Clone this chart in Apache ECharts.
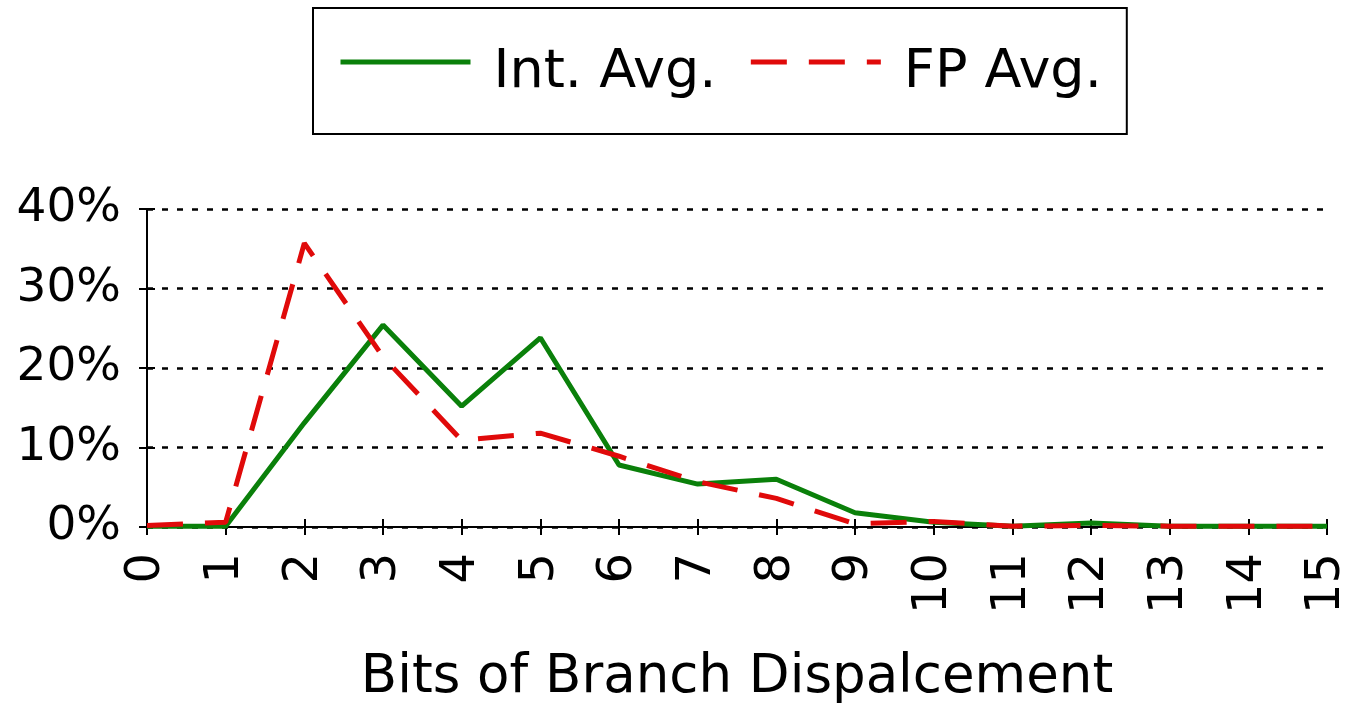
<!DOCTYPE html>
<html>
<head>
<meta charset="utf-8">
<script src="https://cdn.jsdelivr.net/npm/echarts@6/dist/echarts.min.js"></script>
<style>
  html, body { margin: 0; padding: 0; background: #fff; }
  #main { width: 1345px; height: 705px; }
</style>
</head>
<body>
<div id="main"></div>
<script>
// bits of branch displacement
var bits = ['0', '1', '2', '3', '4', '5', '6', '7', '8', '9', '10', '11', '12', '13', '14', '15'];
// percent of branches
var intAvg = [0.1, 0.1, 13.1, 25.4, 15.2, 23.8, 7.8, 5.4, 6.0, 1.8, 0.6, 0.1, 0.5, 0.1, 0.1, 0.1];
var fpAvg  = [0.2, 0.6, 35.7, 21.4, 10.9, 11.8, 8.9, 5.7, 3.6, 0.4, 0.7, 0.1, 0.2, 0.1, 0.1, 0.1];
var yTicks = [0, 10, 20, 30, 40];

var font = 'DejaVu Sans';
var chart = echarts.init(document.getElementById('main'));

var option = {
  animation: false,
  backgroundColor: '#fff',
  textStyle: { fontFamily: font, color: '#000' },
  legend: {
    left: 313,
    top: 8,
    padding: [16, 25, 34, 25],
    itemGap: 32,
    itemWidth: 130,
    itemHeight: 20,
    borderColor: '#000',
    borderWidth: 2,
    itemStyle: { opacity: 0 },
    lineStyle: { width: 5 },
    formatter: '{t|{name}}',
    textStyle: {
      fontFamily: font, fontSize: 54, color: '#000',
      rich: { t: { fontFamily: font, fontSize: 54, lineHeight: 60, color: '#000', padding: [22, 0, 0, 18] } }
    },
    data: ['Int. Avg.', 'FP Avg.']
  },
  grid: { left: 147, right: 18, top: 209, bottom: 178, containLabel: false, outerBoundsMode: 'none' },
  xAxis: [{
    type: 'category',
    data: bits,
    boundaryGap: false,
    name: 'Bits of Branch Dispalcement',
    nameLocation: 'middle',
    nameGap: 125,
    nameTextStyle: { fontFamily: font, fontSize: 53, color: '#000' },
    axisLine: { lineStyle: { color: '#000', width: 2 } },
    axisTick: { show: true, length: 8, alignWithLabel: true, lineStyle: { color: '#000', width: 2 } },
    axisLabel: { rotate: 90, margin: 26, fontFamily: font, fontSize: 48, color: '#000', interval: 0 },
    splitLine: { show: false }
  }, {
    // inner half of the crossing ticks
    type: 'category',
    data: bits,
    boundaryGap: false,
    position: 'bottom',
    axisLine: { show: false },
    axisTick: { show: true, inside: true, length: 8, lineStyle: { color: '#000', width: 2 } },
    axisLabel: { show: false },
    splitLine: { show: false }
  }],
  yAxis: [{
    type: 'value',
    min: yTicks[0],
    max: yTicks[yTicks.length - 1],
    interval: 10,
    axisLine: { show: true, lineStyle: { color: '#000', width: 2 } },
    axisTick: { show: true, length: 8, lineStyle: { color: '#000', width: 2 } },
    axisLabel: { formatter: '{value}%', margin: 26, fontFamily: font, fontSize: 47, color: '#000' },
    splitLine: { show: true, lineStyle: { color: '#000', width: 2.5, type: [6, 9] } }
  }, {
    type: 'value',
    min: yTicks[0],
    max: yTicks[yTicks.length - 1],
    interval: 10,
    position: 'left',
    axisLine: { show: false },
    axisTick: { show: true, inside: true, length: 8, lineStyle: { color: '#000', width: 2 } },
    axisLabel: { show: false },
    splitLine: { show: false }
  }],
  series: [{
    name: 'Int. Avg.',
    type: 'line',
    data: intAvg,
    symbol: 'none',
    color: '#0a800a',
    lineStyle: { color: '#0a800a', width: 5 },
    z: 3
  }, {
    name: 'FP Avg.',
    type: 'line',
    data: fpAvg,
    symbol: 'none',
    color: '#e00a0a',
    lineStyle: { color: '#e00a0a', width: 5, type: [36, 22] },
    z: 4
  }]
};

chart.setOption(option);
</script>
</body>
</html>
